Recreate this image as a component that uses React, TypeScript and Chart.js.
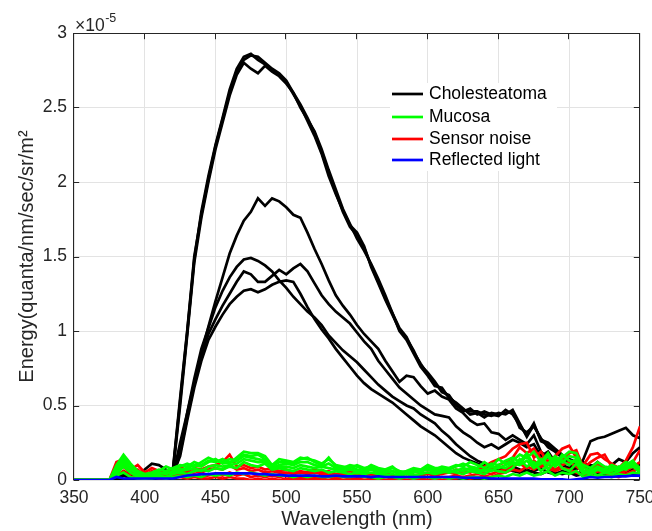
import React, { useEffect, useRef } from "react";
import { Chart, registerables } from "chart.js";

Chart.register(...registerables);

const FONT = "'Liberation Sans', Arial, Helvetica, sans-serif";
const AXIS_COLOR = "#262626";

// Wavelength samples (nm)
const wavelengths = [
  350, 355, 360, 365, 370, 375, 380, 385, 390, 395,
  400, 405, 410, 415, 420, 425, 430, 435, 440, 445,
  450, 455, 460, 465, 470, 475, 480, 485, 490, 495,
  500, 505, 510, 515, 520, 525, 530, 535, 540, 545,
  550, 555, 560, 565, 570, 575, 580, 585, 590, 595,
  600, 605, 610, 615, 620, 625, 630, 635, 640, 645,
  650, 655, 660, 665, 670, 675, 680, 685, 690, 695,
  700, 705, 710, 715, 720, 725, 730, 735, 740, 745,
  750,
];

const xTicks = [350, 400, 450, 500, 550, 600, 650, 700, 750];
const yTicks = [0, 0.5, 1, 1.5, 2, 2.5, 3];
const yTickLabels = ["0", "0.5", "1", "1.5", "2", "2.5", "3"];
const yExponentBase = "×10";
const yExponent = "-5";

// Values in units of 10^-5 quanta/nm/sec/sr/m^2
const chol1 = [
  0, 0, 0, 0, 0, 0, 0.02, 0.06, 0.03, 0.02,
  0.03, 0.02, 0.03, 0.03, 0.08, 0.55, 1.0, 1.5, 1.78, 2.02,
  2.24, 2.42, 2.6, 2.74, 2.82, 2.85, 2.84, 2.8, 2.76, 2.73,
  2.68, 2.6, 2.52, 2.43, 2.33, 2.2, 2.06, 1.93, 1.8, 1.7,
  1.64, 1.56, 1.44, 1.33, 1.22, 1.12, 1.02, 0.96, 0.86, 0.78,
  0.71, 0.65, 0.6, 0.56, 0.51, 0.46, 0.48, 0.44, 0.46, 0.44,
  0.43, 0.47, 0.44, 0.37, 0.3, 0.38, 0.26, 0.24, 0.2, 0.16,
  0.13, 0.11, 0.1, 0.08, 0.12, 0.08, 0.05, 0.08, 0.06, 0.07,
  0.09,
];
const chol2 = [
  0, 0, 0, 0, 0, 0, 0, 0.03, 0.01, 0.01,
  0.02, 0.03, 0.02, 0.02, 0.06, 0.5, 0.97, 1.46, 1.76, 2.0,
  2.22, 2.4, 2.58, 2.72, 2.8, 2.76, 2.73, 2.78, 2.74, 2.71,
  2.66, 2.6, 2.5, 2.42, 2.34, 2.22, 2.08, 1.95, 1.82, 1.72,
  1.62, 1.54, 1.45, 1.35, 1.24, 1.12, 1.0, 0.94, 0.85, 0.76,
  0.7, 0.63, 0.62, 0.55, 0.52, 0.48, 0.44, 0.45, 0.42, 0.45,
  0.44, 0.45, 0.46, 0.35, 0.32, 0.36, 0.28, 0.22, 0.19, 0.15,
  0.14, 0.12, 0.09, 0.1, 0.09, 0.07, 0.06, 0.07, 0.05, 0.06,
  0.08,
];
const chol3 = [
  0, 0, 0, 0, 0, 0, 0.01, 0.04, 0.02, 0.01,
  0.02, 0.02, 0.02, 0.03, 0.07, 0.53, 0.99, 1.48, 1.8, 2.04,
  2.25, 2.43, 2.62, 2.76, 2.84, 2.86, 2.82, 2.79, 2.75, 2.72,
  2.67, 2.59, 2.51, 2.41, 2.31, 2.19, 2.04, 1.92, 1.81, 1.71,
  1.66, 1.57, 1.43, 1.32, 1.21, 1.11, 1.01, 0.95, 0.87, 0.77,
  0.72, 0.66, 0.59, 0.57, 0.5, 0.47, 0.46, 0.46, 0.44, 0.43,
  0.45, 0.44, 0.47, 0.38, 0.29, 0.37, 0.27, 0.25, 0.21, 0.17,
  0.12, 0.1, 0.11, 0.09, 0.1, 0.07, 0.06, 0.06, 0.07, 0.08,
  0.1,
];
const chol4 = [
  0, 0, 0, 0, 0, 0, 0, 0, 0, 0,
  0, 0, 0, 0, 0.03, 0.25, 0.45, 0.65, 0.85, 1.03,
  1.2, 1.36, 1.52, 1.64, 1.74, 1.8, 1.89, 1.84, 1.89, 1.87,
  1.83, 1.78, 1.76, 1.66, 1.55, 1.45, 1.34, 1.24, 1.17, 1.11,
  1.04, 0.98, 0.93, 0.88, 0.8, 0.73, 0.66, 0.7, 0.69, 0.63,
  0.58, 0.6, 0.56, 0.54, 0.48, 0.45, 0.4, 0.37, 0.38, 0.32,
  0.31, 0.27, 0.3, 0.27, 0.24, 0.3, 0.19, 0.15, 0.12, 0.1,
  0.08, 0.07, 0.14, 0.26, 0.28, 0.29, 0.31, 0.33, 0.35, 0.3,
  0.28,
];
const chol5 = [
  0, 0, 0, 0, 0, 0, 0, 0, 0, 0,
  0, 0, 0, 0, 0.02, 0.2, 0.45, 0.68, 0.88, 1.02,
  1.16, 1.27, 1.36, 1.43, 1.48, 1.49, 1.47, 1.44, 1.4, 1.34,
  1.29, 1.23, 1.18, 1.13, 1.09, 1.04, 0.97, 0.92, 0.87, 0.83,
  0.79, 0.74, 0.69, 0.64, 0.6, 0.56, 0.53, 0.5, 0.48, 0.44,
  0.41, 0.38, 0.33, 0.29, 0.24, 0.2, 0.16, 0.13, 0.11, 0.08,
  0.07, 0.06, 0.09, 0.07, 0.05, 0.06, 0.08, 0.05, 0.04, 0.06,
  0.05, 0.04, 0.06, 0.05, 0.04, 0.06, 0.05, 0.04, 0.06, 0.05,
  0.04,
];
const chol6 = [
  0, 0, 0, 0, 0, 0, 0, 0, 0, 0,
  0, 0, 0, 0, 0.03, 0.18, 0.42, 0.65, 0.84, 0.98,
  1.08, 1.17, 1.25, 1.33, 1.4, 1.38, 1.33, 1.33, 1.37, 1.41,
  1.38, 1.42, 1.45, 1.4, 1.32, 1.24, 1.18, 1.13, 1.09, 1.05,
  0.99, 0.93, 0.88, 0.8, 0.74, 0.68, 0.62, 0.58, 0.54, 0.5,
  0.47, 0.44, 0.43, 0.42, 0.36, 0.32, 0.29, 0.25, 0.22, 0.24,
  0.21, 0.24, 0.27, 0.25, 0.22, 0.24, 0.16, 0.19, 0.12, 0.16,
  0.1, 0.08, 0.12, 0.07, 0.09, 0.06, 0.1, 0.14, 0.12, 0.18,
  0.22,
];
const chol7 = [
  0, 0, 0, 0, 0, 0, 0, 0, 0, 0.03,
  0.07, 0.11, 0.1, 0.07, 0.04, 0.16, 0.4, 0.62, 0.8, 0.94,
  1.03, 1.11, 1.18, 1.23, 1.27, 1.28, 1.26, 1.28, 1.31, 1.33,
  1.34, 1.33, 1.25, 1.16, 1.08, 1.01, 0.95, 0.88, 0.82, 0.76,
  0.7, 0.65, 0.61, 0.58, 0.55, 0.52, 0.48, 0.44, 0.4, 0.36,
  0.33, 0.3, 0.26, 0.22, 0.18, 0.15, 0.13, 0.11, 0.09, 0.08,
  0.07, 0.08, 0.06, 0.05, 0.07, 0.05, 0.04, 0.06, 0.05, 0.04,
  0.05, 0.03, 0.04, 0.05, 0.04, 0.03, 0.05, 0.04, 0.03, 0.04,
  0.03,
];

const muc1 = [
  0, 0, 0, 0, 0, 0, 0.1, 0.17, 0.11, 0.06,
  0.04, 0.05, 0.07, 0.06, 0.08, 0.1, 0.09, 0.12, 0.1, 0.13,
  0.12, 0.14, 0.11, 0.15, 0.19, 0.18, 0.18, 0.16, 0.1, 0.14,
  0.13, 0.12, 0.15, 0.14, 0.13, 0.11, 0.14, 0.1, 0.09, 0.08,
  0.1, 0.08, 0.09, 0.07, 0.06, 0.08, 0.06, 0.05, 0.07, 0.06,
  0.08, 0.07, 0.09, 0.08, 0.1, 0.09, 0.12, 0.1, 0.08, 0.11,
  0.1, 0.13, 0.15, 0.12, 0.18, 0.1, 0.14, 0.07, 0.12, 0.15,
  0.19, 0.18, 0.08, 0.06, 0.09, 0.07, 0.1, 0.08, 0.12, 0.1,
  0.05,
];
const muc2 = [
  0, 0, 0, 0, 0, 0, 0.07, 0.13, 0.08, 0.03,
  0.02, 0.03, 0.05, 0.04, 0.06, 0.07, 0.08, 0.1, 0.09, 0.12,
  0.14, 0.11, 0.12, 0.13, 0.16, 0.15, 0.14, 0.13, 0.08, 0.1,
  0.11, 0.1, 0.12, 0.12, 0.1, 0.09, 0.11, 0.08, 0.07, 0.09,
  0.07, 0.06, 0.08, 0.06, 0.05, 0.06, 0.05, 0.04, 0.06, 0.05,
  0.09, 0.06, 0.07, 0.05, 0.06, 0.08, 0.07, 0.05, 0.07, 0.06,
  0.09, 0.08, 0.11, 0.1, 0.13, 0.08, 0.11, 0.16, 0.09, 0.13,
  0.1, 0.14, 0.05, 0.04, 0.07, 0.05, 0.06, 0.09, 0.07, 0.11,
  0.04,
];
const muc3 = [
  0, 0, 0, 0, 0, 0, 0.04, 0.09, 0.05, 0.02,
  0.01, 0.02, 0.03, 0.02, 0.04, 0.05, 0.04, 0.06, 0.07, 0.06,
  0.08, 0.07, 0.09, 0.08, 0.12, 0.1, 0.09, 0.11, 0.07, 0.08,
  0.07, 0.06, 0.08, 0.07, 0.06, 0.07, 0.05, 0.06, 0.05, 0.04,
  0.05, 0.04, 0.05, 0.04, 0.03, 0.04, 0.03, 0.04, 0.03, 0.04,
  0.05, 0.04, 0.05, 0.06, 0.05, 0.04, 0.06, 0.05, 0.04, 0.07,
  0.06, 0.05, 0.08, 0.14, 0.09, 0.12, 0.06, 0.1, 0.14, 0.08,
  0.06, 0.11, 0.04, 0.06, 0.03, 0.05, 0.04, 0.06, 0.1, 0.13,
  0.06,
];
const muc4 = [
  0, 0, 0, 0, 0, 0, 0.08, 0.15, 0.1, 0.05,
  0.03, 0.04, 0.06, 0.09, 0.07, 0.09, 0.11, 0.09, 0.12, 0.15,
  0.13, 0.12, 0.14, 0.13, 0.17, 0.16, 0.17, 0.14, 0.09, 0.12,
  0.12, 0.11, 0.14, 0.15, 0.12, 0.1, 0.15, 0.09, 0.08, 0.1,
  0.09, 0.07, 0.1, 0.08, 0.07, 0.09, 0.05, 0.06, 0.08, 0.07,
  0.1, 0.08, 0.08, 0.07, 0.09, 0.11, 0.09, 0.08, 0.12, 0.09,
  0.14, 0.11, 0.13, 0.17, 0.15, 0.19, 0.12, 0.18, 0.1, 0.17,
  0.13, 0.12, 0.1, 0.08, 0.12, 0.09, 0.08, 0.07, 0.09, 0.12,
  0.08,
];
const muc5 = [
  0, 0, 0, 0, 0, 0, 0.03, 0.05, 0.02, 0.01,
  0.01, 0.01, 0.02, 0.01, 0.02, 0.03, 0.02, 0.03, 0.02, 0.04,
  0.03, 0.04, 0.03, 0.05, 0.04, 0.05, 0.04, 0.03, 0.04, 0.03,
  0.03, 0.02, 0.03, 0.02, 0.03, 0.02, 0.02, 0.03, 0.02, 0.02,
  0.03, 0.02, 0.02, 0.01, 0.02, 0.02, 0.01, 0.02, 0.01, 0.02,
  0.02, 0.01, 0.02, 0.01, 0.02, 0.01, 0.02, 0.02, 0.01, 0.02,
  0.03, 0.02, 0.04, 0.03, 0.05, 0.03, 0.04, 0.06, 0.03, 0.05,
  0.04, 0.06, 0.02, 0.03, 0.02, 0.03, 0.02, 0.04, 0.03, 0.05,
  0.04,
];
const muc6 = [
  0, 0, 0, 0, 0, 0, 0.05, 0.11, 0.07, 0.04,
  0.02, 0.03, 0.04, 0.05, 0.05, 0.06, 0.07, 0.08, 0.06, 0.09,
  0.1, 0.09, 0.1, 0.11, 0.14, 0.13, 0.12, 0.12, 0.08, 0.09,
  0.09, 0.08, 0.1, 0.09, 0.08, 0.09, 0.08, 0.07, 0.06, 0.07,
  0.06, 0.05, 0.07, 0.05, 0.05, 0.06, 0.04, 0.05, 0.05, 0.06,
  0.07, 0.05, 0.06, 0.05, 0.07, 0.06, 0.08, 0.07, 0.06, 0.09,
  0.08, 0.1, 0.12, 0.11, 0.16, 0.09, 0.13, 0.11, 0.16, 0.12,
  0.16, 0.15, 0.06, 0.05, 0.08, 0.06, 0.07, 0.06, 0.08, 0.09,
  0.05,
];

const noise1 = [
  0, 0, 0, 0, 0, 0, 0.12, 0.14, 0.07, 0.1,
  0.05, 0.08, 0.06, 0.05, 0.07, 0.09, 0.06, 0.08, 0.07, 0.09,
  0.1, 0.12, 0.17, 0.09, 0.1, 0.08, 0.09, 0.07, 0.08, 0.06,
  0.07, 0.05, 0.06, 0.05, 0.07, 0.05, 0.06, 0.04, 0.05, 0.06,
  0.04, 0.05, 0.03, 0.04, 0.05, 0.03, 0.04, 0.05, 0.03, 0.04,
  0.05, 0.04, 0.06, 0.05, 0.07, 0.06, 0.08, 0.07, 0.09, 0.12,
  0.14, 0.16, 0.21, 0.24, 0.25, 0.15, 0.19, 0.12, 0.16, 0.21,
  0.23, 0.15, 0.1, 0.17, 0.18, 0.14, 0.11, 0.08, 0.13, 0.22,
  0.36,
];
const noise2 = [
  0, 0, 0, 0, 0, 0, 0.08, 0.11, 0.05, 0.07,
  0.03, 0.06, 0.04, 0.03, 0.05, 0.07, 0.05, 0.06, 0.05, 0.07,
  0.08, 0.07, 0.1, 0.07, 0.08, 0.06, 0.07, 0.05, 0.06, 0.05,
  0.05, 0.04, 0.05, 0.04, 0.05, 0.04, 0.04, 0.03, 0.04, 0.04,
  0.03, 0.04, 0.03, 0.03, 0.04, 0.02, 0.03, 0.04, 0.03, 0.03,
  0.04, 0.03, 0.04, 0.05, 0.04, 0.06, 0.05, 0.07, 0.08, 0.07,
  0.1, 0.12, 0.15, 0.22, 0.18, 0.21, 0.14, 0.17, 0.1, 0.14,
  0.18, 0.2, 0.08, 0.12, 0.15, 0.17, 0.09, 0.06, 0.08, 0.12,
  0.2,
];
const noise3 = [
  0, 0, 0, 0, 0, 0, 0.05, 0.09, 0.04, 0.05,
  0.02, 0.04, 0.03, 0.02, 0.03, 0.04, 0.03, 0.04, 0.02, 0.03,
  0.04, 0.03, 0.05, 0.03, 0.04, 0.02, 0.03, 0.02, 0.03, 0.02,
  0.03, 0.01, 0.02, 0.01, 0.02, 0.01, 0.02, 0.01, 0.02, 0.01,
  0.01, 0.02, 0.01, 0.01, 0.02, 0.01, 0.01, 0.02, 0.01, 0.01,
  0.02, 0.01, 0.02, 0.02, 0.03, 0.02, 0.03, 0.04, 0.05, 0.04,
  0.06, 0.07, 0.09, 0.11, 0.08, 0.13, 0.09, 0.11, 0.07, 0.1,
  0.12, 0.09, 0.05, 0.07, 0.1, 0.08, 0.05, 0.04, 0.06, 0.09,
  0.12,
];
const noise4 = [
  0, 0, 0, 0, 0, 0, 0.03, 0.06, 0.02, 0.03,
  0.01, 0.02, 0.01, 0.01, 0.02, 0.02, 0.01, 0.02, 0.01, 0.01,
  0.02, 0.01, 0.02, 0.01, 0.01, 0, 0.01, 0, 0.01, 0,
  0.01, 0, 0.01, 0, 0.01, 0, 0, 0.01, 0, 0,
  0.01, 0, 0, 0.01, 0, 0, 0.01, 0, 0, 0.01,
  0, 0.01, 0, 0.01, 0.01, 0.02, 0.01, 0.02, 0.03, 0.02,
  0.04, 0.05, 0.07, 0.06, 0.09, 0.07, 0.1, 0.08, 0.06, 0.08,
  0.07, 0.05, 0.03, 0.04, 0.06, 0.05, 0.03, 0.02, 0.04, 0.06,
  0.08,
];

const reflected = [
  0, 0, 0, 0, 0, 0, 0.02, 0.01, 0.01, 0.01,
  0.01, 0.01, 0.01, 0.01, 0.01, 0.02, 0.03, 0.035, 0.04, 0.04,
  0.045, 0.045, 0.045, 0.045, 0.045, 0.045, 0.04, 0.04, 0.035, 0.035,
  0.03, 0.03, 0.03, 0.03, 0.03, 0.025, 0.025, 0.03, 0.025, 0.025,
  0.025, 0.025, 0.02, 0.025, 0.02, 0.02, 0.02, 0.02, 0.02, 0.02,
  0.02, 0.02, 0.02, 0.02, 0.02, 0.015, 0.015, 0.015, 0.015, 0.01,
  0.01, 0.01, 0.01, 0.01, 0.01, 0.01, 0.005, 0.005, 0.005, 0.005,
  0, 0.005, 0.01, 0.02, 0.015, 0.02, 0.02, 0.025, 0.025, 0.03,
  0.03,
];

const cholesteatomaSeries = [chol1, chol2, chol3, chol4, chol5, chol6, chol7];
const mucosaSeries = [muc1, muc2, muc3, muc4, muc5, muc6];
const sensorNoiseSeries = [noise1, noise2, noise3, noise4];
const reflectedSeries = [reflected];

const legendLabels = ["Cholesteatoma", "Mucosa", "Sensor noise", "Reflected light"];
const legendColors = ["#000000", "#00ff00", "#ff0000", "#0000ff"];

const xTitle = "Wavelength (nm)";
const yTitle = "Energy(quanta/nm/sec/sr/m²";

const toPoints = (vals: number[]) => vals.map((v, i) => ({ x: wavelengths[i], y: v }));

const makeSets = (group: number[][], color: string, order: number) =>
  group.map((vals) => ({
    data: toPoints(vals),
    borderColor: color,
    backgroundColor: color,
    borderWidth: 2.7,
    pointRadius: 0,
    tension: 0,
    fill: false,
    order,
  }));

const decorPlugin = {
  id: "decor",
  beforeDatasetsDraw(chart: any) {
    const { ctx, chartArea: a, scales } = chart;
    ctx.save();
    ctx.strokeStyle = AXIS_COLOR;
    ctx.lineWidth = 1;
    const L = Math.round(a.left) - 0.5;
    const R = Math.round(a.right) - 0.5;
    const T = Math.round(a.top) + 0.5;
    const B = Math.round(a.bottom) - 0.5;
    ctx.strokeRect(L, T, R - L, B - T);
    const tl = 5.7;
    ctx.beginPath();
    xTicks.forEach((v) => {
      const px = Math.round(scales.x.getPixelForValue(v)) - 0.5;
      ctx.moveTo(px, B);
      ctx.lineTo(px, B - tl);
      ctx.moveTo(px, T);
      ctx.lineTo(px, T + tl);
    });
    yTicks.forEach((v) => {
      const py = Math.round(scales.y.getPixelForValue(v)) + 0.5;
      ctx.moveTo(L, py);
      ctx.lineTo(L + tl, py);
      ctx.moveTo(R, py);
      ctx.lineTo(R - tl, py);
    });
    ctx.stroke();
    ctx.restore();
  },
  afterDraw(chart: any) {
    const { ctx, chartArea: a } = chart;
    ctx.save();
    // exponent label
    ctx.fillStyle = AXIS_COLOR;
    ctx.textBaseline = "alphabetic";
    ctx.textAlign = "left";
    ctx.font = `17.5px ${FONT}`;
    const ex = a.left + 1;
    ctx.fillText(yExponentBase, ex, 31);
    const w = ctx.measureText(yExponentBase).width;
    ctx.font = `12.5px ${FONT}`;
    ctx.fillText(yExponent, ex + w + 0.5, 22);

    // legend
    const boxL = 390, boxT = 83, boxR = 557, boxB = 171;
    ctx.fillStyle = "#ffffff";
    ctx.fillRect(boxL, boxT, boxR - boxL, boxB - boxT);
    const rows = [94, 117, 139, 160];
    ctx.font = `17.5px ${FONT}`;
    ctx.textBaseline = "middle";
    legendLabels.forEach((label, i) => {
      ctx.strokeStyle = legendColors[i];
      ctx.lineWidth = 2.7;
      ctx.beginPath();
      ctx.moveTo(392, rows[i]);
      ctx.lineTo(423, rows[i]);
      ctx.stroke();
      ctx.fillStyle = "#000000";
      ctx.fillText(label, 429, rows[i] + 0.5);
    });
    ctx.restore();
  },
};

export default function App() {
  const ref = useRef<HTMLCanvasElement | null>(null);
  useEffect(() => {
    if (!ref.current) return;
    const datasets = [
      ...makeSets(reflectedSeries, legendColors[3], 0),
      ...makeSets(mucosaSeries, legendColors[1], 1),
      ...makeSets(sensorNoiseSeries, legendColors[2], 2),
      ...makeSets(cholesteatomaSeries, legendColors[0], 3),
    ];
    const chart = new Chart(ref.current, {
      type: "line",
      data: { datasets },
      plugins: [decorPlugin],
      options: {
        animation: false,
        responsive: false,
        devicePixelRatio: 1,
        events: [],
        layout: { padding: { left: 0, right: 12, top: 33, bottom: 0 } },
        plugins: { legend: { display: false }, tooltip: { enabled: false } },
        scales: {
          x: {
            type: "linear",
            min: 350,
            max: 750,
            afterBuildTicks: (s: any) => {
              s.ticks = xTicks.map((v) => ({ value: v }));
            },
            afterFit: (s: any) => {
              s.height = 51;
              s.paddingLeft = 0;
              s.paddingRight = 0;
            },
            ticks: {
              autoSkip: false,
              maxRotation: 0,
              padding: 8,
              color: AXIS_COLOR,
              font: { family: FONT, size: 17.5 },
              callback: (v: any) => String(v),
            },
            grid: { color: "#e3e3e3", drawTicks: false, lineWidth: 1 },
            border: { display: false },
            title: {
              display: true,
              text: xTitle,
              color: AXIS_COLOR,
              font: { family: FONT, size: 20 },
              padding: { top: 0, bottom: 0 },
            },
          },
          y: {
            type: "linear",
            min: 0,
            max: 3,
            afterBuildTicks: (s: any) => {
              s.ticks = yTicks.map((v) => ({ value: v }));
            },
            afterFit: (s: any) => {
              s.width = 74;
              s.paddingTop = 0;
              s.paddingBottom = 0;
            },
            ticks: {
              autoSkip: false,
              padding: 7,
              color: AXIS_COLOR,
              font: { family: FONT, size: 17.5 },
              callback: (v: any) => {
                const i = yTicks.indexOf(Number(v));
                return i >= 0 ? yTickLabels[i] : "";
              },
            },
            grid: { color: "#e3e3e3", drawTicks: false, lineWidth: 1 },
            border: { display: false },
            title: {
              display: true,
              text: yTitle,
              color: AXIS_COLOR,
              font: { family: FONT, size: 20 },
              padding: { top: 15, bottom: 0 },
            },
          },
        },
      },
    } as any);
    return () => chart.destroy();
  }, []);
  return (
    <div style={{ position: "absolute", left: 0, top: 0, width: 652, height: 531, background: "#ffffff" }}>
      <canvas ref={ref} width={652} height={531} style={{ display: "block", width: 652, height: 531 }} />
    </div>
  );
}
